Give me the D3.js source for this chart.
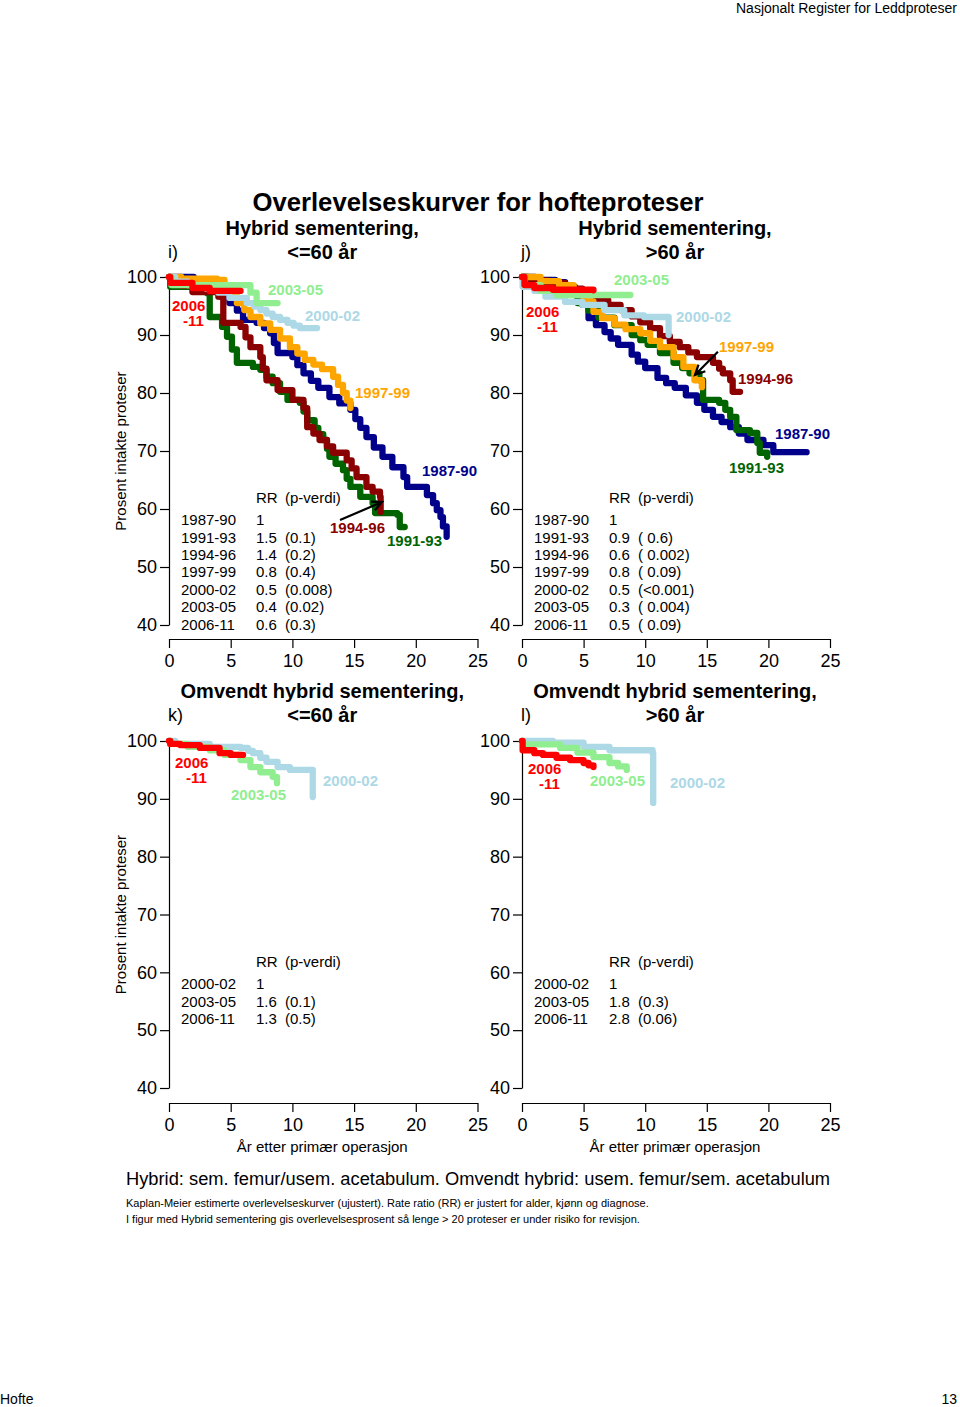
<!DOCTYPE html>
<html><head><meta charset="utf-8">
<script src="https://cdn.jsdelivr.net/npm/d3@7"></script>
<style>
body{margin:0;background:#fff}
svg{display:block}
text{font-family:"Liberation Sans",Arial,Helvetica,sans-serif;fill:#000}
</style>
</head><body><script>
// ---------------- DATA ----------------
const xTicks = [0, 5, 10, 15, 20, 25];
const yTicks = [40, 50, 60, 70, 80, 90, 100];
const cohorts = ["1987-90", "1991-93", "1994-96", "1997-99", "2000-02", "2003-05", "2006-11"];
const cohortsRev = ["2000-02", "2003-05", "2006-11"];

// Panel i: Hybrid, <=60 år  [years, percent]
const hyb60_1987_90 = [[0,100],[2.0,99.5],[3.5,97.5],[4.2,96.6],[4.9,95.5],[5.5,94.2],[6.0,92.6],[7.1,92.1],[7.7,91.2],[8.2,90.3],[8.5,88.6],[8.8,86.9],[10.0,86.2],[10.4,84.8],[10.9,83.4],[11.5,82.1],[12.1,80.9],[13.0,79.3],[13.8,78.2],[14.7,77.1],[15.1,75.5],[15.5,74.0],[16.0,72.4],[16.6,70.6],[17.3,69.0],[18.1,67.2],[19.0,65.5],[19.3,63.8],[20.9,62.4],[21.4,61.0],[21.7,59.8],[22.0,58.6],[22.2,57.0],[22.5,55.2]];
const hyb60_1991_93 = [[0,100],[0.1,98.3],[3.1,97.2],[3.3,93.1],[3.9,93.1],[4.3,91.4],[4.7,89.7],[5.1,87.5],[5.5,85.2],[6.8,84.5],[7.4,84.0],[7.9,82.8],[8.4,81.7],[9.0,80.2],[9.6,78.8],[10.6,78.3],[10.9,76.8],[11.2,75.3],[11.8,74.0],[12.1,72.9],[12.5,71.9],[12.8,70.4],[13.0,69.0],[13.5,67.8],[14.1,66.7],[14.4,65.2],[14.7,63.8],[15.5,62.1],[16.5,61.0],[16.7,59.3],[18.5,59.0],[18.7,56.9],[19.1,56.9]];
const hyb60_1994_96 = [[0,100],[0.1,99.5],[1.0,98.5],[1.9,97.4],[4.0,96.6],[4.4,92.1],[5.8,91.4],[6.2,89.6],[6.6,87.9],[7.4,86.2],[7.6,84.2],[7.9,82.2],[8.8,80.5],[10.0,78.8],[10.9,77.4],[11.2,74.1],[11.7,73.0],[12.2,71.9],[12.8,70.8],[13.3,69.7],[14.4,68.4],[14.8,67.0],[15.2,65.5],[16.0,63.8],[16.5,63.0],[17.1,62.1],[17.15,59.5]];
const hyb60_1997_99 = [[0,100],[1.0,99.7],[3.9,99.5],[4.5,98.0],[5.0,96.8],[5.5,95.5],[6.1,94.3],[6.6,93.1],[7.4,92.0],[8.2,90.9],[9.0,89.4],[9.8,87.9],[10.4,86.8],[11.0,85.7],[11.7,84.9],[12.4,84.1],[13.3,82.8],[13.7,81.4],[14.1,80.0],[14.4,78.7],[14.7,77.4]];
const hyb60_2000_02 = [[0,100],[0.5,99.2],[1.5,98.6],[3.0,98.0],[4.0,97.3],[4.9,96.4],[6.3,95.5],[6.9,94.9],[7.4,94.3],[7.9,93.7],[8.4,93.1],[9.0,92.6],[9.6,92.1],[10.1,91.6],[10.6,91.2],[12.0,91.2]];
const hyb60_2003_05 = [[0,100],[0.2,98.6],[6.6,97.3],[7.1,95.5],[8.8,95.5]];
const hyb60_2006_11 = [[0,100],[0.1,99.0],[1.9,98.1],[3.3,97.6],[5.8,97.6]];

// Panel j: Hybrid, >60 år
const hyb61_1987_90 = [[0,100],[1.05,99.5],[2.7,99.1],[3.5,98.3],[4.3,97.4],[4.9,95.2],[5.4,92.9],[6.0,91.7],[6.7,90.5],[7.2,89.4],[7.8,88.3],[8.9,86.6],[9.4,85.4],[10.0,84.3],[11.0,82.6],[11.7,81.7],[12.4,80.9],[13.3,79.6],[14.2,78.3],[14.8,77.1],[15.5,75.9],[16.2,75.0],[16.9,74.1],[17.6,73.0],[18.3,71.9],[19.6,71.0],[20.4,69.8],[23.1,69.8]];
const hyb61_1991_93 = [[0,100],[0.5,99.3],[2.0,98.5],[3.5,97.2],[4.5,95.5],[5.4,94.2],[6.2,93.0],[7.5,91.7],[8.9,90.0],[9.6,89.1],[10.2,88.3],[11.2,86.9],[12.3,85.2],[13.0,84.3],[13.6,83.4],[14.4,82.2],[14.7,78.8],[16.0,78.3],[16.5,77.1],[16.9,75.9],[17.4,73.6],[18.5,73.1],[19.1,71.4],[19.3,69.7],[19.9,69.0]];
const hyb61_1994_96 = [[0,100],[0.3,99.4],[2.1,99.0],[3.5,98.0],[4.9,96.9],[6.0,96.0],[7.0,95.2],[8.0,94.3],[8.9,93.2],[9.6,92.2],[10.4,91.2],[11.2,89.8],[12.0,88.8],[12.8,87.9],[13.5,87.0],[14.2,86.2],[15.5,85.2],[16.0,84.2],[16.3,83.4],[16.9,82.2],[17.1,80.2],[17.7,80.2]];
const hyb61_1997_99 = [[0,100],[1.5,99.3],[3.0,98.6],[4.2,97.6],[5.0,95.8],[5.8,94.0],[6.5,92.9],[7.5,91.8],[8.4,91.0],[9.6,90.3],[10.4,89.0],[11.2,87.9],[12.3,86.2],[13.1,84.5],[14.0,82.2],[14.6,81.0]];
const hyb61_2000_02 = [[0,100],[0.05,98.3],[1.0,97.6],[1.9,96.6],[3.5,95.7],[4.9,95.2],[6.7,94.3],[8.3,93.4],[9.9,93.1],[11.85,93.1],[11.9,90.0]];
const hyb61_2003_05 = [[0,100],[0.2,98.6],[1.5,97.6],[2.8,96.9],[8.8,96.9]];
const hyb61_2006_11 = [[0,100],[0.2,98.6],[1.0,98.1],[2.5,97.8],[5.8,97.7]];

// Panel k: Omvendt hybrid, <=60 år
const rev60_2000_02 = [[0,100],[0.5,99.5],[3.3,99.0],[5.8,98.8],[6.4,98.3],[6.8,97.9],[7.4,97.1],[7.9,96.4],[8.8,95.5],[9.8,95.0],[11.6,95.0],[11.65,90.3]];
const rev60_2003_05 = [[0,100],[0.1,99.5],[1.5,99.0],[3.3,98.4],[4.5,97.6],[5.8,96.7],[6.6,95.5],[7.4,94.6],[8.4,93.8],[8.75,92.7]];
const rev60_2006_11 = [[0,100],[0.1,99.5],[0.9,99.3],[2.5,98.8],[4.1,97.9],[5.0,97.6],[6.0,97.6]];

// Panel l: Omvendt hybrid, >60 år
const rev61_2000_02 = [[0,100],[2.5,99.7],[5.0,99.0],[7.1,98.4],[10.6,97.9],[10.65,89.3]];
const rev61_2003_05 = [[0,100],[0.1,99.4],[3.1,98.8],[4.5,98.0],[5.8,97.2],[7.1,96.2],[7.8,95.6],[8.5,95.0]];
const rev61_2006_11 = [[0,100],[0.05,98.4],[1.0,97.9],[1.7,97.6],[2.8,97.1],[3.9,96.7],[5.0,96.2],[5.4,95.8],[5.8,95.5]];

// RR tables
const rrHyb60 = ["1", "1.5", "1.4", "0.8", "0.5", "0.4", "0.6"];
const pHyb60  = ["", "(0.1)", "(0.2)", "(0.4)", "(0.008)", "(0.02)", "(0.3)"];
const rrHyb61 = ["1", "0.9", "0.6", "0.8", "0.5", "0.3", "0.5"];
const pHyb61  = ["", "( 0.6)", "( 0.002)", "( 0.09)", "(<0.001)", "( 0.004)", "( 0.09)"];
const rrRev60 = ["1", "1.6", "1.3"];
const pRev60  = ["", "(0.1)", "(0.5)"];
const rrRev61 = ["1", "1.8", "2.8"];
const pRev61  = ["", "(0.3)", "(0.06)"];

// ---------------- STYLE / LAYOUT ----------------
const colors = {"1987-90":"#00008b","1991-93":"#006400","1994-96":"#8b0000","1997-99":"#ffa500",
                "2000-02":"#add8e6","2003-05":"#90ee90","2006-11":"#ff0000"};
const FONT = '"Liberation Sans",Arial,Helvetica,sans-serif';

const svg = d3.select("body").append("svg").attr("width",960).attr("height",1407);

function txt(x,y,s,opt={}){
  const t = svg.append("text").attr("x",x).attr("y",y).text(s)
    .attr("font-size",opt.size||15).attr("dy","0.35em");
  if(opt.bold) t.attr("font-weight","bold");
  if(opt.anchor) t.attr("text-anchor",opt.anchor);
  if(opt.color) t.style("fill",opt.color);
  if(opt.rotate) t.attr("transform",`rotate(-90,${x},${y})`);
  t.attr("xml:space","preserve").style("white-space","pre");
  return t;
}

// header/footer
txt(957,8,"Nasjonalt Register for Leddproteser",{size:14,anchor:"end"});
txt(0,1399,"Hofte",{size:14});
txt(957,1399,"13",{size:14,anchor:"end"});

// titles
txt(478,202,"Overlevelseskurver for hofteproteser",{size:25.7,bold:true,anchor:"middle"});

const panels = [
  {id:"i)", x0:169, x1:477.5, yTop:277, yBot:625, axisY:639, title1:"Hybrid sementering,", title2:"<=60 år", tY:228,
   names:cohorts, series:[hyb60_1987_90,hyb60_1991_93,hyb60_1994_96,hyb60_1997_99,hyb60_2000_02,hyb60_2003_05,hyb60_2006_11],
   rr:rrHyb60, pv:pHyb60, tabY:498,
   labels:[["2003-05",268,290],["2000-02",305,316],["1997-99",355,393],["1987-90",422,471],["1994-96",330,528],["1991-93",387,541]],
   lab2006:[172,183,306],
   arrow:[[13.86,58.1],[17.26,61.2]], ylab:true},
  {id:"j)", x0:522, x1:830, yTop:277, yBot:625, axisY:639, title1:"Hybrid sementering,", title2:">60 år", tY:228,
   names:cohorts, series:[hyb61_1987_90,hyb61_1991_93,hyb61_1994_96,hyb61_1997_99,hyb61_2000_02,hyb61_2003_05,hyb61_2006_11],
   rr:rrHyb61, pv:pHyb61, tabY:498,
   labels:[["2003-05",614,280],["2000-02",676,317],["1997-99",719,347],["1994-96",738,379],["1987-90",775,434],["1991-93",729,468]],
   lab2006:[526,537,312],
   arrow:[[15.9,87.1],[14.04,83.1]], ylab:false},
  {id:"k)", x0:169, x1:477.5, yTop:741, yBot:1088, axisY:1103, title1:"Omvendt hybrid sementering,", title2:"<=60 år", tY:691,
   names:cohortsRev, series:[rev60_2000_02,rev60_2003_05,rev60_2006_11],
   rr:rrRev60, pv:pRev60, tabY:962,
   labels:[["2003-05",231,795],["2000-02",323,781]],
   lab2006:[175,186,763],
   arrow:null, ylab:true, xlab:true},
  {id:"l)", x0:522, x1:830, yTop:741, yBot:1088, axisY:1103, title1:"Omvendt hybrid sementering,", title2:">60 år", tY:691,
   names:cohortsRev, series:[rev61_2000_02,rev61_2003_05,rev61_2006_11],
   rr:rrRev61, pv:pRev61, tabY:962,
   labels:[["2003-05",590,781],["2000-02",670,783]],
   lab2006:[528,539,769],
   arrow:null, ylab:false, xlab:true}
];

panels.forEach(P=>{
  const x = d3.scaleLinear().domain([0,25]).range([P.x0,P.x1]);
  const y = d3.scaleLinear().domain([40,100]).range([P.yBot,P.yTop]);
  const cx = (P.x0+P.x1)/2 - 1;

  txt(cx,P.tY,P.title1,{size:20,bold:true,anchor:"middle"});
  txt(cx,P.tY+23.5,P.title2,{size:20,bold:true,anchor:"middle"});
  txt(P.x0-1,P.tY+23.5,P.id,{size:18});

  // axes
  const ga = svg.append("g").attr("transform",`translate(${P.x0},0)`)
    .call(d3.axisLeft(y).tickValues(yTicks).tickSize(9).tickPadding(3).tickSizeOuter(0));
  const gb = svg.append("g").attr("transform",`translate(0,${P.axisY})`)
    .call(d3.axisBottom(x).tickValues(xTicks).tickSize(9).tickPadding(6).tickSizeOuter(0));
  [ga,gb].forEach(g=>{
    g.selectAll("text").attr("font-size",18).attr("font-family",FONT).style("fill","#000");
    g.selectAll("path,line").attr("stroke","#000").attr("stroke-width",1.2);
  });
  gb.selectAll(".tick text").attr("dy","0.72em");

  if(P.ylab) txt(121,(P.yTop+P.yBot)/2,"Prosent intakte proteser",{size:15,anchor:"middle",rotate:true});
  if(P.xlab) txt(cx,1147,"År etter primær operasjon",{size:15,anchor:"middle"});

  // RR table
  const lx = P.x0+12, rx = P.x0+87, px = P.x0+116;
  txt(rx,P.tabY,"RR",{size:15});
  txt(px,P.tabY,"(p-verdi)",{size:15});
  P.names.forEach((n,i)=>{
    const yy = P.tabY + 22 + i*17.4;
    txt(lx,yy,n,{size:15});
    txt(rx,yy,P.rr[i],{size:15});
    if(P.pv[i]) txt(px,yy,P.pv[i],{size:15});
  });

  // curves
  const line = d3.line().x(d=>x(d[0])).y(d=>y(d[1])).curve(d3.curveStepAfter);
  P.series.forEach((s,i)=>{
    svg.append("path").attr("d",line(s)).attr("fill","none")
      .attr("stroke",colors[P.names[i]]).attr("stroke-width",6.3)
      .attr("stroke-linecap","round").attr("stroke-linejoin","round");
  });

  // arrow
  if(P.arrow){
    const [a,b] = P.arrow;
    const x1=x(a[0]),y1=y(a[1]),x2=x(b[0]),y2=y(b[1]);
    const ang = Math.atan2(y2-y1,x2-x1), L=11, sp=0.45;
    svg.append("path")
      .attr("d",`M${x1},${y1}L${x2},${y2}M${x2-L*Math.cos(ang-sp)},${y2-L*Math.sin(ang-sp)}L${x2},${y2}L${x2-L*Math.cos(ang+sp)},${y2-L*Math.sin(ang+sp)}`)
      .attr("fill","none").attr("stroke","#000").attr("stroke-width",2.2);
  }

  // curve labels
  P.labels.forEach(l=>{
    txt(l[1],l[2],l[0],{size:15,bold:true,color:colors[l[0]]});
  });
  // two-line "2006 / -11" label as one text element
  const [ax,bx,ly] = P.lab2006;
  const t = svg.append("text").attr("font-size",15).attr("font-weight","bold").style("fill",colors["2006-11"]);
  t.append("tspan").attr("x",ax).attr("y",ly).attr("dy","0.35em").text("2006");
  t.append("tspan").attr("x",bx).attr("y",ly+14.5).attr("dy","0.35em").text("-11");
});

// captions
txt(126,1179,"Hybrid: sem. femur/usem. acetabulum. Omvendt hybrid: usem. femur/sem. acetabulum",{size:18.3});
txt(126,1203,"Kaplan-Meier estimerte overlevelseskurver (ujustert). Rate ratio (RR) er justert for alder, kjønn og diagnose.",{size:11});
txt(126,1219,"I figur med Hybrid sementering gis overlevelsesprosent så lenge > 20 proteser er under risiko for revisjon.",{size:11});
</script></body></html>
